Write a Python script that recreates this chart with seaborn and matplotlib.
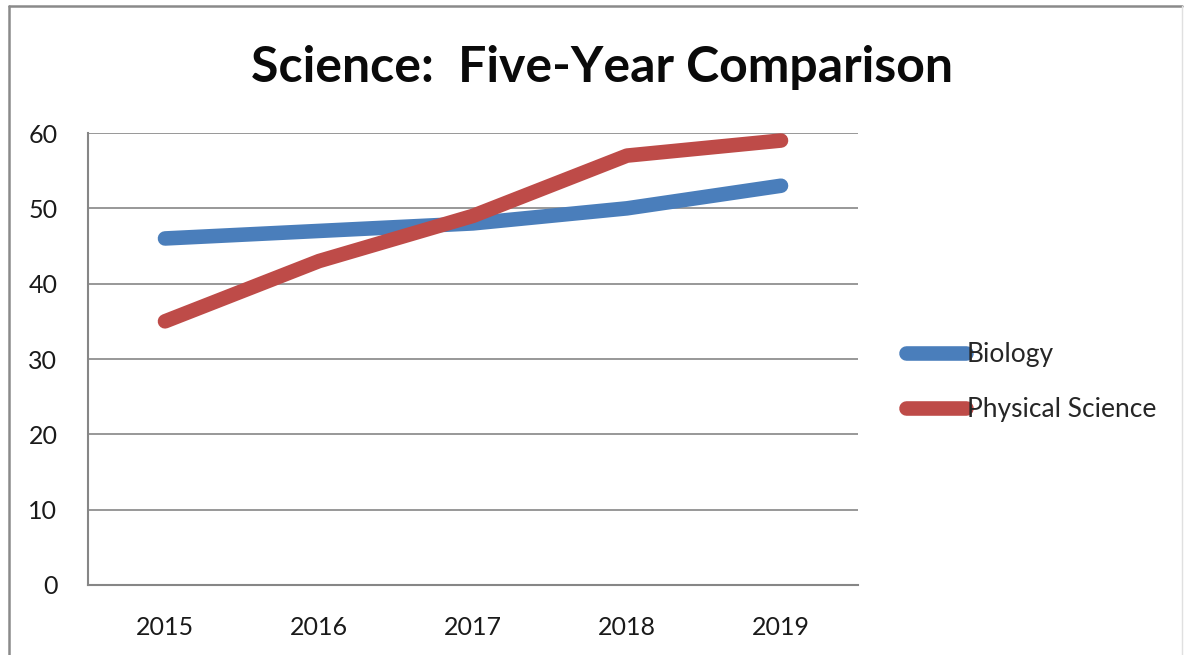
import matplotlib
matplotlib.use("Agg")
import matplotlib.pyplot as plt
import seaborn as sns
import pandas as pd
from matplotlib.lines import Line2D

years = ["2015", "2016", "2017", "2018", "2019"]
biology = [46, 47, 48, 50, 53]
physical_science = [35, 43, 49, 57, 59]
series_names = ["Biology", "Physical Science"]
colors = ["#4A7EBB", "#BE4B48"]

df = pd.DataFrame({
    "pos": list(range(len(years))) * 2,
    "value": biology + physical_science,
    "series": [series_names[0]] * len(years) + [series_names[1]] * len(years),
})

sns.set_theme(style="white")
plt.rcParams["font.family"] = ["Lato", "DejaVu Sans"]

fig = plt.figure(figsize=(11.86, 6.55), dpi=100)
ax = fig.add_axes([88 / 1186, 1 - 585 / 655, (858 - 88) / 1186, (585 - 133) / 655])

sns.lineplot(data=df, x="pos", y="value", hue="series", palette=colors,
             linewidth=10.5, ax=ax, legend=False, sort=False)
for ln in ax.get_lines():
    ln.set_solid_capstyle("round")
    ln.set_solid_joinstyle("round")

ax.set_xlim(-0.5, len(years) - 0.5)
ax.set_ylim(0, 60)
ax.set_yticks(range(0, 61, 10))
ax.set_xticks(range(len(years)))
ax.set_xticklabels(years)
ax.set_xlabel("")
ax.set_ylabel("")
ax.yaxis.grid(True, color="#868686", linewidth=1.2)
ax.set_axisbelow(True)
for side in ["top", "right"]:
    ax.spines[side].set_visible(False)
for side in ["left", "bottom"]:
    ax.spines[side].set_color("#868686")
    ax.spines[side].set_linewidth(1.5)
ax.tick_params(axis="both", labelsize=18, colors="#1a1a1a", length=0)
ax.tick_params(axis="x", pad=22)
ax.tick_params(axis="y", pad=22)

fig.text(0.508, 1 - 68 / 655, "Science:  Five-Year Comparison", ha="center", va="center",
         fontsize=36, fontweight="bold", color="#0a0a0a")

handles = [Line2D([0], [0], color=c, linewidth=10.5, solid_capstyle="round") for c in colors]
fig.legend(handles, series_names, loc="center left", bbox_to_anchor=(893 / 1186, 1 - 382 / 655),
           frameon=False, fontsize=19, handlelength=2.25, handletextpad=0.05,
           labelspacing=1.15, borderpad=0)

# chart frame
fig.add_artist(Line2D([9 / 1186, 1182 / 1186], [1 - 6 / 655, 1 - 6 / 655], color="#8a8a8a", linewidth=1.8))
fig.add_artist(Line2D([9 / 1186, 9 / 1186], [0, 1 - 6 / 655], color="#8a8a8a", linewidth=1.8))
fig.add_artist(Line2D([1182 / 1186, 1182 / 1186], [0, 1 - 6 / 655], color="#e0e0e0", linewidth=1.0))

fig.savefig("out.png", dpi=100)
